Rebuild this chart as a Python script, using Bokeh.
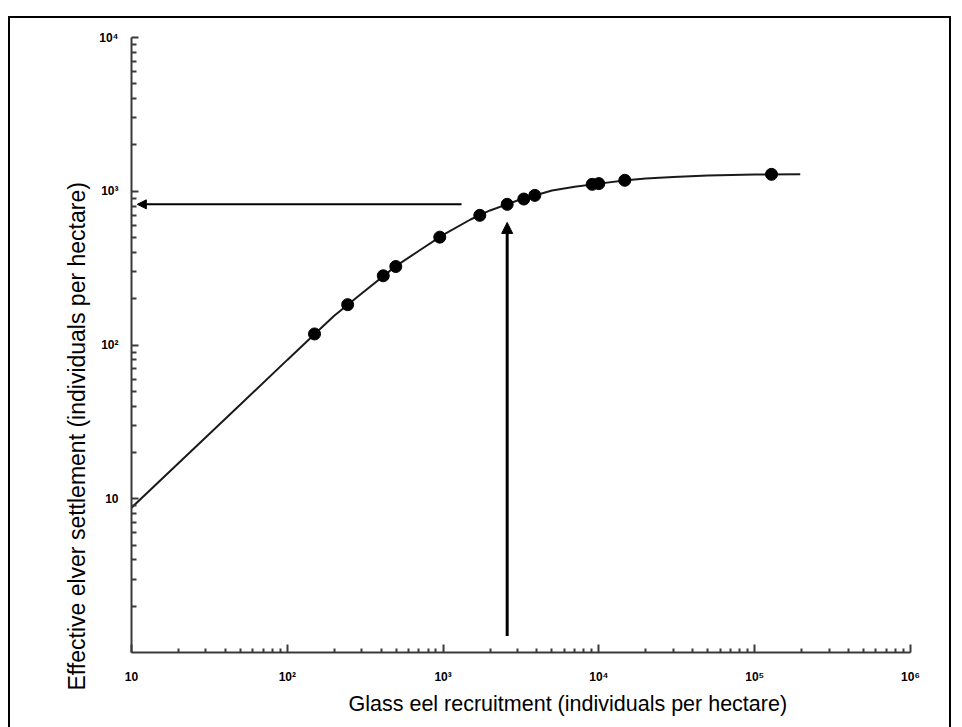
from bokeh.plotting import figure
from bokeh.models import (Range1d, FixedTicker, Arrow, NormalHead, Title, InlineStyleSheet)
from bokeh.embed import file_html
from bokeh.resources import INLINE

# ---- data ----
obs_x = [149.5, 244, 413, 497, 952, 1720, 2578, 3296, 3878, 9057, 9986, 14665, 128200]
obs_y = [118, 183, 282, 324, 503, 697, 822, 890, 940, 1109, 1121, 1178, 1288]

curve_x = [10, 20, 50, 100, 150, 200, 300, 500, 700, 1000, 1500, 2000, 3000, 5000,
           7000, 10000, 15000, 20000, 30000, 50000, 100000, 196000]
curve_y = [8.75, 17, 41, 80, 118, 155, 216, 327, 410, 520, 655, 750, 870, 1010,
           1068, 1121, 1178, 1210, 1240, 1265, 1285, 1292]

# arrow: recruitment value read up to curve, then across to settlement axis
arrow_recruit = 2578
arrow_settle = 822
vert_arrow_y = [1.28, 627]
horiz_arrow_x = [1313, 10.9]

x_tick_values = [10, 100, 1000, 10000, 100000, 1000000]
x_tick_labels = ["10", "10\u00b2", "10\u00b3", "10\u2074", "10\u2075", "10\u2076"]
y_tick_values = [10, 100, 1000, 10000]
y_tick_labels = ["10", "10\u00b2", "10\u00b3", "10\u2074"]

x_title = "Glass eel recruitment (individuals per hectare)"
y_title = "Effective elver settlement (individuals per hectare)"

FONT = "Liberation Sans"
TICK_FONT = "Liberation Sans"

frame_css = InlineStyleSheet(css="""
:host { position: relative; }
:host::after {
  content: '';
  position: absolute;
  left: 8px; top: 16px; width: 943px; height: 720px;
  border-left: 2.5px solid black; border-top: 2.5px solid black;
  border-right: 2.5px solid black; border-bottom: none;
  box-sizing: border-box; pointer-events: none;
}
""")

p = figure(width=962, height=727, x_axis_type="log", y_axis_type="log",
           x_range=Range1d(10, 1e6), y_range=Range1d(1, 1e4),
           output_backend="svg", toolbar_location=None,
           min_border_left=131, min_border_right=52, min_border_top=37,
           min_border_bottom=75)
p.stylesheets = [frame_css]
p.outline_line_color = None
p.grid.visible = False
p.background_fill_color = "white"
p.border_fill_color = "white"

def minors(lo_dec, hi_dec):
    out = []
    for d in range(lo_dec, hi_dec):
        for k in range(2, 10):
            out.append(k * 10 ** d)
    return out

p.xaxis.ticker = FixedTicker(ticks=x_tick_values, minor_ticks=minors(1, 6))
p.yaxis.ticker = FixedTicker(ticks=y_tick_values, minor_ticks=minors(0, 4))
p.xaxis.major_label_overrides = {v: l for v, l in zip(x_tick_values, x_tick_labels)}
p.yaxis.major_label_overrides = {v: l for v, l in zip(y_tick_values, y_tick_labels)}

for ax in (p.xaxis, p.yaxis):
    ax.axis_line_color = "#3a3a3a"
    ax.axis_line_width = 2
    ax.major_tick_line_color = "#3a3a3a"
    ax.minor_tick_line_color = "#3a3a3a"
    ax.major_tick_line_width = 2
    ax.minor_tick_line_width = 2
    ax.major_tick_out = 0
    ax.minor_tick_out = 0
    ax.major_label_text_font = TICK_FONT
    ax.major_label_text_font_style = "bold"
    ax.major_label_text_font_size = "12px"
    ax.major_label_text_color = "black"

p.xaxis.major_tick_in = 8
p.xaxis.minor_tick_in = 4
p.yaxis.major_tick_in = 7
p.yaxis.minor_tick_in = 5
p.xaxis.major_label_standoff = 17
p.yaxis.major_label_standoff = 13

# curve and observations
p.line(curve_x, curve_y, line_color="#1a1a1a", line_width=2)
p.scatter(obs_x, obs_y, size=12, fill_color="black", line_color="black")

# arrows
p.add_layout(Arrow(end=NormalHead(size=11, fill_color="black", line_color="black"),
                   x_start=arrow_recruit, y_start=vert_arrow_y[0],
                   x_end=arrow_recruit, y_end=vert_arrow_y[1],
                   line_width=3, line_color="black"))
p.add_layout(Arrow(end=NormalHead(size=9, fill_color="black", line_color="black"),
                   x_start=horiz_arrow_x[0], y_start=arrow_settle,
                   x_end=horiz_arrow_x[1], y_end=arrow_settle,
                   line_width=2, line_color="black"))

# axis titles, shifted as in the reference
p.add_layout(Title(text=x_title, align="left", offset=217, text_font=FONT,
                   text_font_size="21.5px", text_font_style="normal",
                   text_color="black", standoff=6), "below")
p.add_layout(Title(text=y_title, align="left", offset=-38, text_font=FONT,
                   text_font_size="23px", text_font_style="normal",
                   text_color="black", standoff=14), "left")

open("out.html", "w").write(file_html(p, INLINE))
